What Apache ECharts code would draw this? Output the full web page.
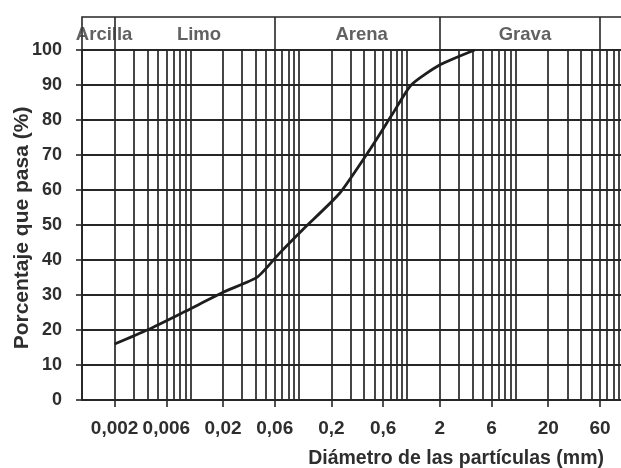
<!DOCTYPE html>
<html>
<head>
<meta charset="utf-8">
<script src="https://cdn.jsdelivr.net/npm/echarts@6/dist/echarts.min.js"></script>
<style>html,body{margin:0;padding:0;background:#fff;}#c{width:621px;height:468px;}</style>
</head>
<body>
<div id="c"></div>
<script>
// Curve data: particle diameter (mm) and percent passing
var diameters = [0.002, 0.004, 0.0088, 0.0205, 0.0417, 0.0662, 0.108, 0.237, 0.449, 0.738, 1.09, 1.99, 4.2];
var percentPassing = [16, 20, 25.2, 30.9, 35.2, 41.9, 48.6, 59, 71.4, 81.9, 90, 95.7, 100];

// x tick labels (values and text)
var xTickValues = [0.002, 0.006, 0.02, 0.06, 0.2, 0.6, 2, 6, 20, 60];
var xTickLabels = ['0,002', '0,006', '0,02', '0,06', '0,2', '0,6', '2', '6', '20', '60'];

// log grid lines: mantissas times decades
var gridMantissas = [1, 2, 3, 4, 5, 6, 7, 8, 9];
var gridDecades = [0.001, 0.01, 0.1, 1, 10];

// soil classification bands
var zoneNames = ['Arcilla', 'Limo', 'Arena', 'Grava'];
var zoneLabelAt = [0.0016, 0.012, 0.38, 12.2];
var zoneBounds = [0.002, 0.06, 2, 60];

var gridX = [];
gridDecades.forEach(function (d) {
  gridMantissas.forEach(function (m) { gridX.push(+(m * d).toPrecision(3)); });
});
gridX.push(100);

var LINE = '#262626';
var TXT = '#2e2e2e';
var FONT = '"Liberation Sans", Arial, sans-serif';

var chart = echarts.init(document.getElementById('c'), null, {renderer: 'canvas'});
chart.setOption({
  animation: false,
  backgroundColor: '#ffffff',
  grid: [
    {left: 82, right: -3, top: 50, bottom: 68, show: false, containLabel: false, outerBoundsMode: 'none'},
    {left: 82, right: -3, top: 17, height: 33, show: true, borderColor: LINE, borderWidth: 1.6, backgroundColor: 'transparent', containLabel: false, outerBoundsMode: 'none'}
  ],
  xAxis: [
    {
      type: 'log', logBase: 10, min: 0.001, max: 100, gridIndex: 0,
      axisLine: {show: true, lineStyle: {color: LINE, width: 1.8}},
      axisTick: {show: true, length: 7, customValues: xTickValues, lineStyle: {color: LINE, width: 1.6}},
      axisLabel: {
        show: true, customValues: xTickValues, margin: 19, hideOverlap: false,
        color: TXT, fontFamily: FONT, fontWeight: 'bold', fontSize: 19,
        formatter: function (v) {
          for (var i = 0; i < xTickValues.length; i++) {
            if (Math.abs(Math.log10(v) - Math.log10(xTickValues[i])) < 1e-6) return xTickLabels[i];
          }
          return '';
        }
      },
      splitLine: {show: false}
    },
    {type: 'log', logBase: 10, min: 0.001, max: 100, gridIndex: 1, show: false}
  ],
  yAxis: [
    {
      type: 'value', min: 0, max: 100, interval: 10, gridIndex: 0,
      axisLine: {show: true, lineStyle: {color: LINE, width: 1.8}},
      axisTick: {show: true, length: 6, lineStyle: {color: LINE, width: 1.6}},
      axisLabel: {margin: 20, color: TXT, fontFamily: FONT, fontWeight: 'bold', fontSize: 18},
      splitLine: {show: true, lineStyle: {color: LINE, width: 1.8}}
    },
    {type: 'value', min: 0, max: 1, gridIndex: 1, show: false, splitLine: {show: false}}
  ],
  title: {
    text: 'Diámetro de las partículas (mm)', right: 12, top: 444,
    textStyle: {color: TXT, fontFamily: FONT, fontSize: 19.5, fontWeight: 'bold'}
  },
  graphic: [{
    type: 'text', x: 22, y: 228, rotation: Math.PI / 2, silent: true,
    style: {
      text: 'Porcentaje que pasa (%)', fill: TXT,
      font: 'bold 21px "Liberation Sans", Arial, sans-serif',
      align: 'center', verticalAlign: 'middle'
    }
  }],
  series: [
    {
      type: 'line', xAxisIndex: 0, yAxisIndex: 0, data: [], z: 1, silent: true,
      markLine: {
        silent: true, precision: 8, symbol: ['none', 'none'], label: {show: false},
        lineStyle: {color: LINE, width: 1.7, type: 'solid'},
        emphasis: {disabled: true},
        data: gridX.map(function (v) { return {xAxis: v}; })
      }
    },
    {
      type: 'line', xAxisIndex: 0, yAxisIndex: 0, z: 5, silent: true,
      data: diameters.map(function (d, i) { return [d, percentPassing[i]]; }),
      showSymbol: false, smooth: 0.2,
      lineStyle: {color: '#1e1e1e', width: 2.8}
    },
    {
      type: 'line', xAxisIndex: 1, yAxisIndex: 1, data: [], silent: true,
      markLine: {
        silent: true, precision: 8, symbol: ['none', 'none'], label: {show: false},
        lineStyle: {color: LINE, width: 1.6, type: 'solid'},
        data: zoneBounds.map(function (v) { return {xAxis: v}; })
      }
    },
    {
      type: 'scatter', xAxisIndex: 1, yAxisIndex: 1, symbolSize: 0, silent: true, z: 6,
      data: zoneNames.map(function (n, i) { return {name: n, value: [zoneLabelAt[i], 0.45]}; }),
      label: {
        show: true, position: 'inside', formatter: '{b}',
        color: '#3a3a3a', fontFamily: FONT, fontWeight: 'bold', fontSize: 18.5
      }
    }
  ]
});
</script>
</body>
</html>
